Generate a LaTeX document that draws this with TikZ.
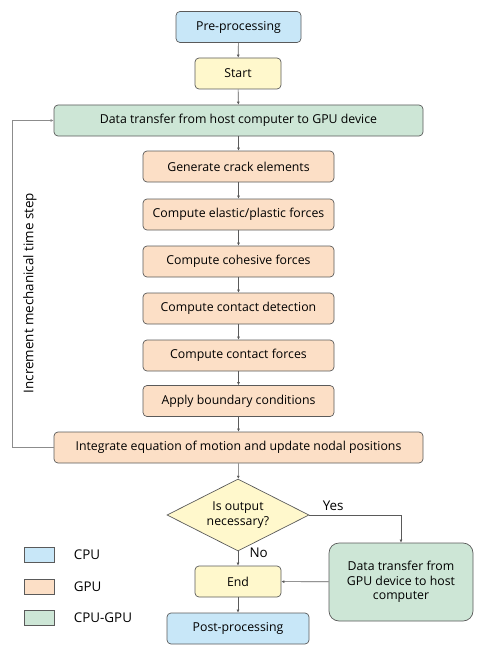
\documentclass[tikz,border=0pt]{standalone}
\usepackage{fontspec}
\setmainfont{Open Sans}
\usetikzlibrary{shapes.geometric, arrows.meta, positioning, calc}

\definecolor{cpublue}{HTML}{C8E7F8}
\definecolor{termyellow}{HTML}{FFF8CC}
\definecolor{gpuorange}{HTML}{FCDFC6}
\definecolor{linkgreen}{HTML}{CDE6D6}
\definecolor{edgegray}{HTML}{5A5A5A}
\newcommand{\flowfont}{\fontsize{12.3}{14.5}\selectfont}
\newcommand{\keyfont}{\fontsize{13.4}{15}\selectfont}

\begin{document}
\begin{tikzpicture}[x=1pt, y=-1pt,
    box/.style={rectangle, rounded corners=4pt, draw=edgegray, line width=0.7pt, inner sep=0pt, minimum height=31pt, align=center, font=\flowfont},
    cpu/.style={box, fill=cpublue, minimum width=125pt},
    term/.style={box, fill=termyellow, minimum width=86pt},
    gpu/.style={box, fill=gpuorange, minimum width=191pt},
    link/.style={box, fill=linkgreen, minimum width=369pt},
    decision/.style={diamond, draw=edgegray, line width=0.7pt, fill=termyellow, aspect=1.97, minimum width=142pt, minimum height=72pt, inner sep=0pt, align=center, font=\flowfont},
    key/.style={rectangle, draw=edgegray, line width=0.7pt, minimum width=30pt, minimum height=15pt, inner sep=0pt},
    arrow/.style={-{Latex[length=3pt, width=3pt]}, draw=edgegray, line width=0.6pt},
    feedback/.style={-{Latex[length=3pt, width=3pt]}, draw=black!45, line width=0.6pt}
]
\useasboundingbox (0,0) rectangle (483,658);

\node[cpu] (pre) at (238.5,27) {Pre-processing};
\node[term] (start) at (238,73.5) {Start};
\node[link] (hostgpu) at (238.5,120.5) {Data transfer from host computer to GPU device};

\node[gpu] (crack) at (238.5,166.5) {Generate crack elements};
\node[gpu] (elastic) at (238.5,214.5) {Compute elastic/plastic forces};
\node[gpu] (cohesive) at (238.5,261.5) {Compute cohesive forces};
\node[gpu] (detect) at (238.5,308.5) {Compute contact detection};
\node[gpu] (contact) at (238.5,355.5) {Compute contact forces};
\node[gpu] (boundary) at (238.5,401) {Apply boundary conditions};
\node[gpu, minimum width=369pt] (integrate) at (238.5,447.5) {Integrate equation of motion and update nodal positions};

\node[decision] (output) at (238,515) {Is output\\necessary?};
\node[link, rounded corners=10pt, minimum width=144pt, minimum height=78pt] (gpuhost) at (401,582) {Data transfer from\\GPU device to host\\computer};
\node[term] (end) at (238,581.5) {End};
\node[cpu, minimum width=142pt] (post) at (238,628.5) {Post-processing};

\node[rotate=90, font=\keyfont] (steplabel) at (30,293) {Increment mechanical time step};

% legend
\node[key, fill=cpublue] (kcpu) at (39,554.5) {};
\node[key, fill=gpuorange] (kgpu) at (39,586.5) {};
\node[key, fill=linkgreen] (klink) at (39,618) {};
\node[right=16pt of kcpu, font=\keyfont] (tcpu) {CPU};
\node[right=16pt of kgpu, font=\keyfont] (tgpu) {GPU};
\node[right=16pt of klink, font=\keyfont] (tlink) {CPU-GPU};

\draw[arrow] (pre) -- (start);
\draw[arrow] (start) -- (hostgpu);
\draw[arrow] (hostgpu) -- (crack);
\draw[arrow] (crack) -- (elastic);
\draw[arrow] (elastic) -- (cohesive);
\draw[arrow] (cohesive) -- (detect);
\draw[arrow] (detect) -- (contact);
\draw[arrow] (contact) -- (boundary);
\draw[arrow] (boundary) -- (integrate);
\draw[arrow] (integrate) -- (output);
\draw[arrow] (output.east) -| node[pos=0.13, above=1pt, font=\keyfont] {Yes} (gpuhost.north);
\draw[arrow] (output.south) -- node[pos=0.1, right=8pt, font=\keyfont] {No} (end);
\draw[arrow] (gpuhost) -- (end);
\draw[arrow] (end) -- (post);
\draw[feedback] (integrate.west) -- ++(-41,0) |- (hostgpu.west);
\end{tikzpicture}
\end{document}
